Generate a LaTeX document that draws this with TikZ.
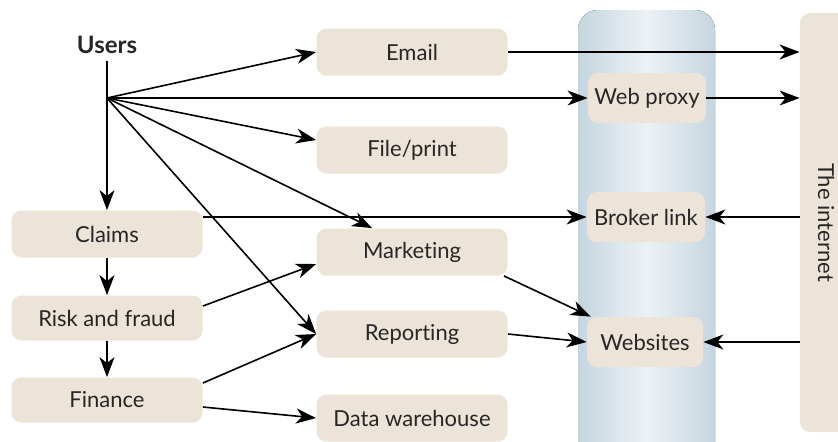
\documentclass[tikz,border=0pt]{standalone}
\usepackage{fontspec}
\setmainfont{Lato}[Ligatures=NoCommon]
\usetikzlibrary{arrows.meta}
\definecolor{beige}{RGB}{236,228,216}
\definecolor{steel}{RGB}{197,213,223}
\definecolor{mist}{RGB}{236,242,245}

\begin{document}
\begin{tikzpicture}[x=0.5pt, y=-0.5pt,
    every node/.style={font=\fontsize{11}{13}\selectfont, text=black!85},
    unit/.style={fill=beige, rounded corners=5pt, minimum width=95.5pt, minimum height=23.5pt, inner sep=0pt},
    gate/.style={unit, minimum width=59pt, minimum height=25pt},
    link/.style={line width=0.8pt, -{Stealth[length=10pt,width=7.5pt,inset=3pt]}}]
    \useasboundingbox (0,0) rectangle (838,441);
    % gateway column
    \fill[left color=steel, right color=steel, middle color=mist, rounded corners=10pt] (578,10) rectangle (715,470);
    \node (users) [font=\bfseries\fontsize{12}{14}\selectfont] at (107,45) {Users};
    \coordinate (hub) at (107,98);
    \node (email) [unit] at (412,52) {Email};
    \node (filep) [unit] at (412,150) {File/print};
    \node (market) [unit] at (412,252) {Marketing};
    \node (report) [unit] at (412,334) {Reporting};
    \node (dwh) [unit] at (412,418) {Data warehouse};
    \node (claims) [unit] at (107,234) {Claims};
    \node (risk) [unit, minimum height=22.5pt] at (107,318) {Risk and fraud};
    \node (finance) [unit, minimum height=22.5pt] at (107,400) {Finance};
    \node (proxy) [gate] at (647,98) {Web proxy};
    \node (broker) [gate] at (646,217) {Broker link};
    \node (websites) [gate, minimum width=58pt] at (645,342) {Websites};
    \node (inet) [unit, rotate=-90, minimum width=209.5pt, minimum height=26pt] at (826,222.5) {The internet};
    % from the users
    \draw[link] (users.south) -- (claims.north);
    \draw[link] (hub) -- (email.west);
    \draw[link] (hub) -- (proxy.west);
    \draw[link] (hub) -- ([yshift=5pt]filep.west);
    \draw[link] (hub) -- ([xshift=28pt]market.north west);
    \draw[link] (hub) -- (report.west);
    % business units
    \draw[link] (claims.east |- broker.west) -- (broker.west);
    \draw[link] (claims.south) -- (risk.north);
    \draw[link] (risk.south) -- (finance.north);
    \draw[link] ([yshift=6pt]risk.east) -- ([yshift=-6pt]market.west);
    \draw[link] ([yshift=8.5pt]finance.east) -- (report.west);
    \draw[link] ([yshift=-3.5pt]finance.east) -- (dwh.west);
    \draw[link] ([xshift=-2pt]market.south east) -- ([xshift=2pt]websites.north west);
    \draw[link] (report.east) -- (websites.west);
    % out to the internet
    \draw[link] (email.east) -- (inet.south |- email.east);
    \draw[link] (proxy.east) -- (inet.south |- proxy.east);
    \draw[link] (inet.south |- broker.east) -- (broker.east);
    \draw[link] (inet.south |- websites.east) -- (websites.east);
\end{tikzpicture}
\end{document}
